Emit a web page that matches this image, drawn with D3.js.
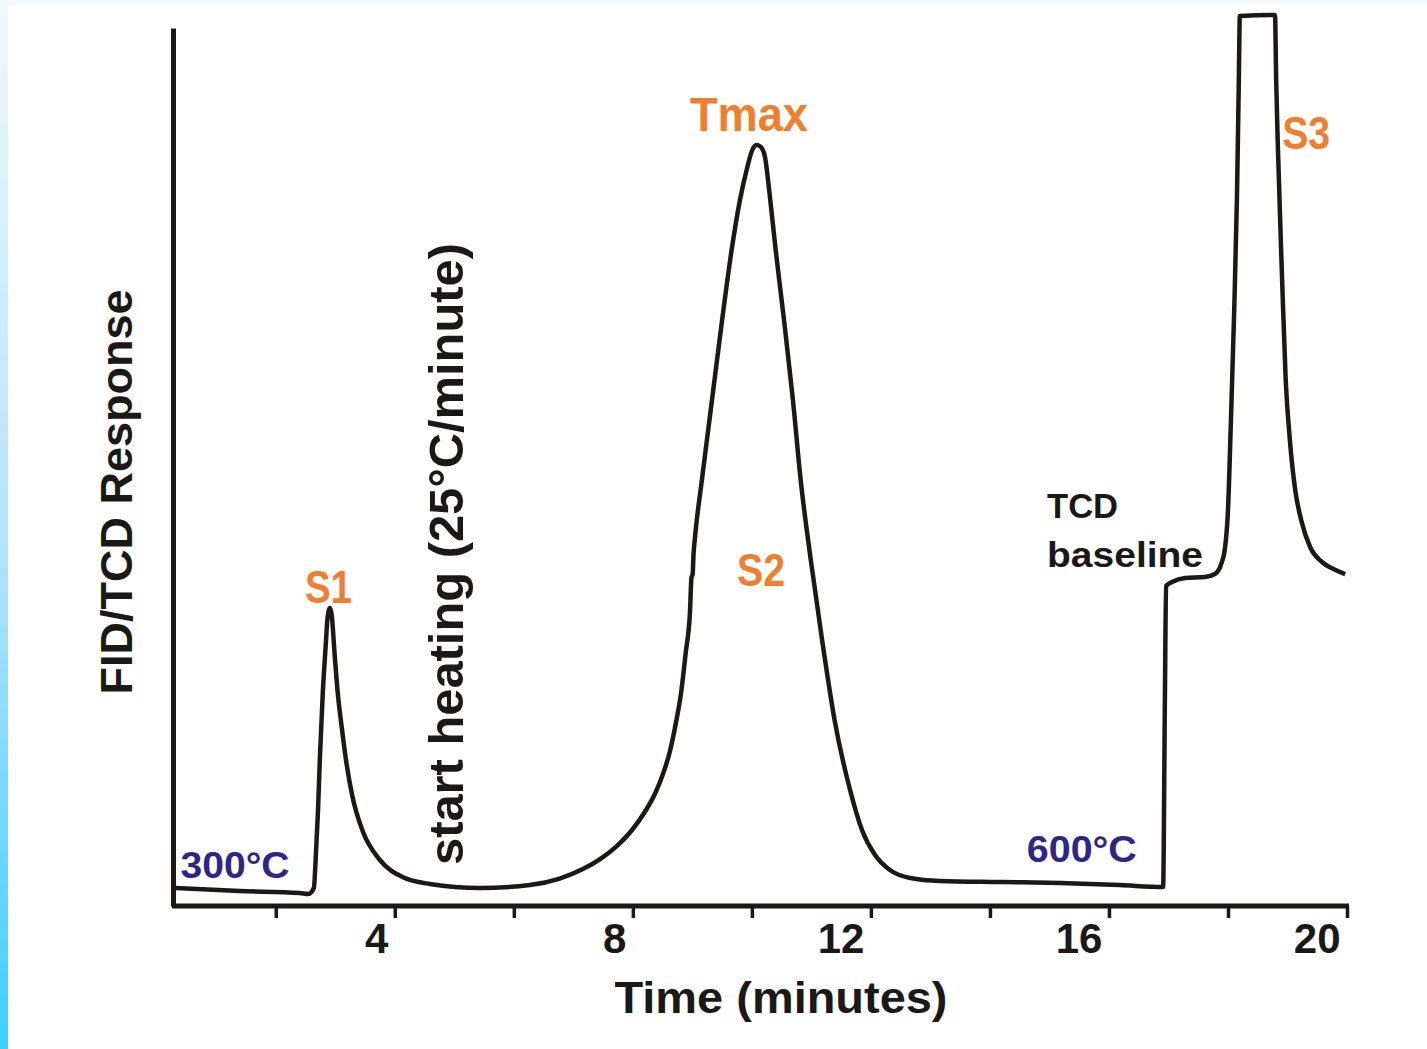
<!DOCTYPE html>
<html lang="en">
<head>
<meta charset="utf-8">
<title>Rock-Eval pyrogram</title>
<script src="https://d3js.org/d3.v7.min.js"></script>
<style>
  html, body { margin: 0; padding: 0; background: #fff; }
  svg { display: block; }
  .lbl { font-family: "Liberation Sans", Arial, sans-serif; font-weight: bold; }
</style>
</head>
<body>
<div id="chart"></div>
<script>
// trace: time in minutes, detector response (arbitrary units, axis top = 100)
var time = [
  0.32, 1.39, 2.40, 2.55, 2.64, 2.67, 2.71, 2.74, 2.79, 2.84, 2.87, 2.91, 2.94, 2.99, 3.04, 3.11,
  3.19, 3.29, 3.46, 3.75, 4.13, 4.59, 5.43, 6.27, 6.77, 7.16, 7.45, 7.73, 8.00, 8.20, 8.37, 8.50,
  8.62, 8.72, 8.81, 8.89, 8.96, 8.985, 9.005, 9.02, 9.04, 9.16, 9.33, 9.50, 9.66, 9.80, 9.92, 10.00,
  10.08, 10.15, 10.22, 10.30, 10.40, 10.54, 10.69, 10.82, 10.99, 11.18, 11.39, 11.65, 11.85, 12.07,
  12.32, 12.66, 13.16, 14.17, 15.18, 16.18, 16.91, 16.94, 16.96, 17.06, 17.28, 17.61, 17.78, 17.88,
  17.95, 18.00, 18.05, 18.10, 18.15, 18.18, 18.20, 18.79, 18.81, 18.84, 18.91, 18.97, 19.04, 19.13,
  19.23, 19.38, 19.58, 19.77, 19.97
];
var response = [
  2.05, 1.71, 1.48, 1.37, 2.05, 5.24, 10.93, 16.63, 24.26, 29.73, 32.80, 33.94, 33.14, 28.59, 24.37, 20.27,
  16.17, 12.41, 8.54, 5.24, 3.30, 2.51, 2.05, 2.39, 3.13, 4.21, 5.35, 6.83, 8.77, 10.71, 12.76, 14.92,
  17.54, 20.73, 24.26, 28.93, 33.49, 37.40, 37.80, 40.10, 41.69, 48.52, 57.63, 66.74, 74.72, 80.41, 84.05, 85.99,
  86.67, 86.45, 85.31, 80.98, 74.72, 66.74, 57.63, 48.52, 39.41, 30.30, 21.18, 13.21, 8.66, 5.81,
  4.10, 3.19, 2.85, 2.73, 2.62, 2.39, 2.16, 23.46, 36.45, 36.90, 37.36, 37.47, 37.81, 38.84,
  40.77, 45.10, 55.35, 66.74, 80.41, 92.94, 101.37, 101.48, 94.08, 86.10, 71.30, 59.91, 53.08, 47.38,
  43.96, 40.89, 39.18, 38.38, 37.81
];

var tickValues = [2, 4, 6, 8, 10, 12, 14, 16, 18, 20];
var tickLabels = ["", "4", "", "8", "", "12", "", "16", "", "20"];

var W = 1427, H = 1049;
var ink = "#1b1916", orange = "#ef7f2f", blue = "#2e2589";

var svg = d3.select("#chart").append("svg")
  .attr("width", W)
  .attr("height", H);

// slide background: light top band and blue gradient strip on the left
var grad = svg.append("defs").append("linearGradient")
  .attr("id", "edge").attr("x1", 0).attr("y1", 0).attr("x2", 0).attr("y2", 1);
grad.append("stop").attr("offset", "0%").attr("stop-color", "#eef8ff");
grad.append("stop").attr("offset", "55%").attr("stop-color", "#ade2ff");
grad.append("stop").attr("offset", "100%").attr("stop-color", "#3ccfff");

svg.append("rect").attr("width", W).attr("height", H).attr("fill", "#fff");
svg.append("rect").attr("width", W).attr("height", 5).attr("fill", "#f3faff");
svg.append("rect").attr("width", 8).attr("height", H).attr("fill", "url(#edge)");

var x = d3.scaleLinear().domain([0.29, 20]).range([174, 1347]);
var y = d3.scaleLinear().domain([0, 100]).range([906, 28]);

// axes
var xAxis = d3.axisBottom(x)
  .tickValues(tickValues)
  .tickSize(12)
  .tickSizeOuter(0)
  .tickFormat(function(d, i) { return tickLabels[i]; });

var gx = svg.append("g")
  .attr("transform", "translate(0," + y(0) + ")")
  .call(xAxis);
gx.select(".domain").attr("stroke", ink).attr("stroke-width", 5).attr("d", "M172,0H1349");
gx.selectAll(".tick line").attr("stroke", ink).attr("stroke-width", 3.5);
gx.selectAll(".tick text")
  .attr("class", "lbl")
  .attr("fill", ink)
  .attr("font-size", 42)
  .attr("text-anchor", "end")
  .attr("x", -7)
  .attr("y", 47)
  .attr("dy", null);

var gy = svg.append("g")
  .attr("transform", "translate(" + 173 + ",0)")
  .call(d3.axisLeft(y).tickValues([]).tickSizeOuter(0));
gy.select(".domain").attr("stroke", ink).attr("stroke-width", 5);

// trace
var pts = d3.zip(time, response);
var line = d3.line()
  .x(function(d) { return x(d[0]); })
  .y(function(d) { return y(d[1]); })
  .curve(d3.curveMonotoneX);

svg.append("path")
  .datum(pts)
  .attr("d", line)
  .attr("fill", "none")
  .attr("stroke", ink)
  .attr("stroke-width", 4.5)
  .attr("stroke-linejoin", "round");

// labels
function label(txt, tx, ry, size, len, color) {
  return svg.append("text")
    .attr("class", "lbl")
    .attr("x", x(tx))
    .attr("y", y(ry))
    .attr("font-size", size)
    .attr("fill", color)
    .attr("textLength", len)
    .attr("lengthAdjust", "spacingAndGlyphs")
    .text(txt);
}

label("Tmax", 8.96, 88.27, 48, 118, orange);
label("S1", 2.49, 34.51, 46, 47, orange);
label("S2", 9.75, 36.45, 46, 48, orange);
label("S3", 18.91, 86.22, 46, 48, orange);
label("300°C", 0.40, 3.19, 37, 109, blue);
label("600°C", 14.62, 5.01, 37, 110, blue);
label("TCD", 14.96, 44.19, 35, 71, ink);
label("baseline", 14.96, 38.61, 35, 156, ink);

svg.append("text")
  .attr("class", "lbl")
  .attr("transform", "translate(" + x(5.14) + "," + y(40.09) + ") rotate(-90)")
  .attr("text-anchor", "middle")
  .attr("font-size", 48)
  .attr("fill", ink)
  .attr("textLength", 622)
  .attr("lengthAdjust", "spacingAndGlyphs")
  .text("start heating (25°C/minute)");

// axis titles
svg.append("text")
  .attr("class", "lbl")
  .attr("transform", "translate(132,492) rotate(-90)")
  .attr("text-anchor", "middle")
  .attr("font-size", 44)
  .attr("fill", ink)
  .attr("textLength", 405)
  .attr("lengthAdjust", "spacingAndGlyphs")
  .text("FID/TCD Response");

svg.append("text")
  .attr("class", "lbl")
  .attr("x", 781)
  .attr("y", 1013)
  .attr("text-anchor", "middle")
  .attr("font-size", 45)
  .attr("fill", ink)
  .attr("textLength", 333)
  .attr("lengthAdjust", "spacingAndGlyphs")
  .text("Time (minutes)");
</script>
</body>
</html>
